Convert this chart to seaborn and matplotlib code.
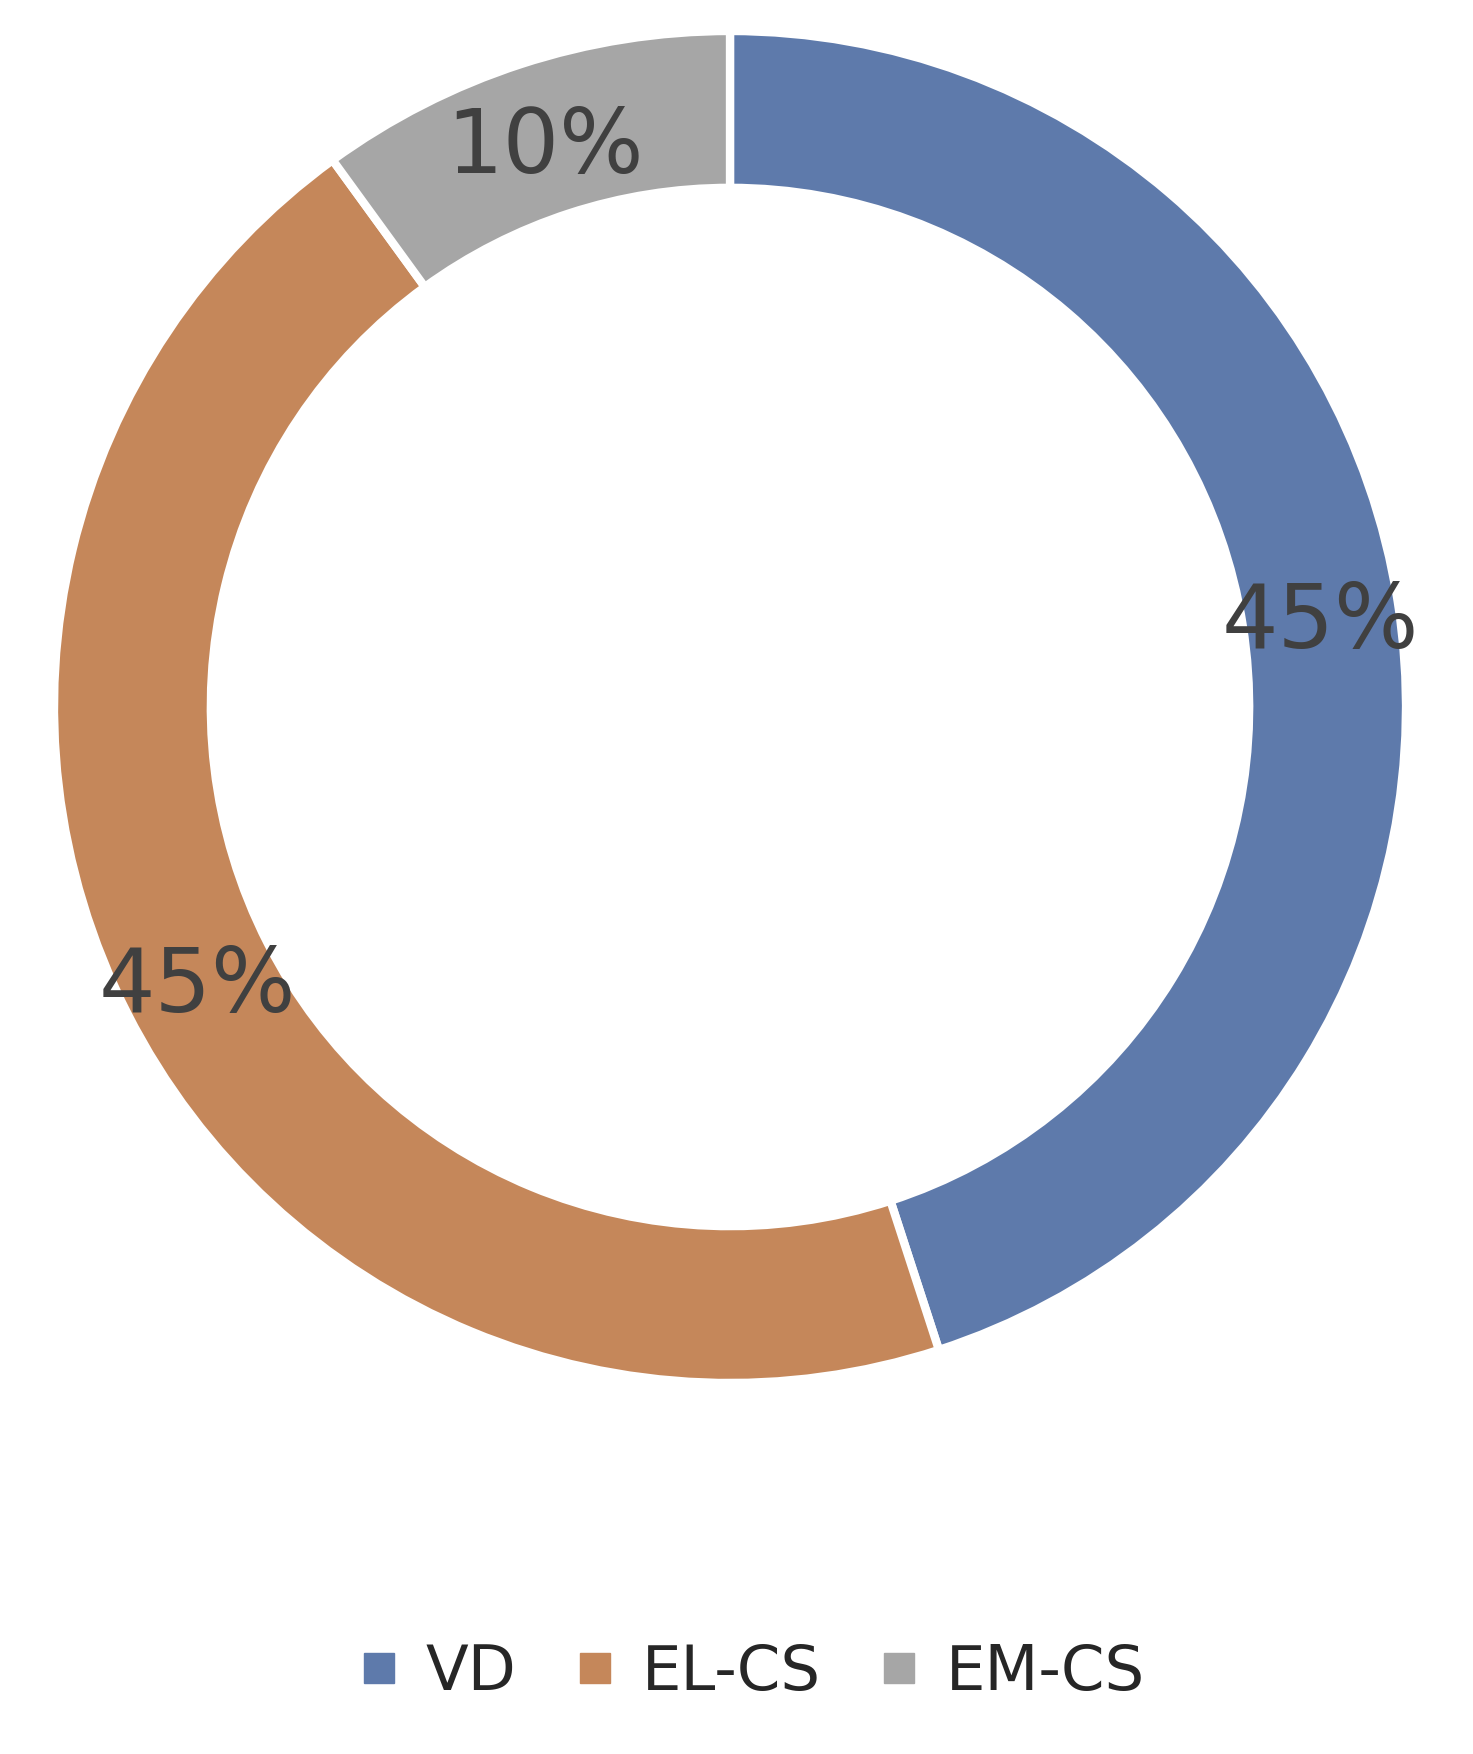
import matplotlib
matplotlib.use("Agg")
import matplotlib.pyplot as plt
import seaborn as sns
import numpy as np
from matplotlib.lines import Line2D

categories = ["VD", "EL-CS", "EM-CS"]
shares = [45, 45, 10]
colors = ["#5E7AAB", "#C5875A", "#A6A6A6"]

sns.set_theme(style="white")
plt.rcParams["font.family"] = ["DejaVu Sans"]

fig = plt.figure(figsize=(14.73, 17.54), dpi=100)
ax = fig.add_axes([54 / 1473, 371 / 1754, 1352 / 1473, 1352 / 1754])

ring = 0.232
wedges, _ = ax.pie(
    shares, colors=colors, startangle=90, counterclock=False, radius=1,
    wedgeprops=dict(width=ring, edgecolor="white", linewidth=6),
)

# labels sit on the middle of the ring
r_mid = 1 - ring / 2
for w, v in zip(wedges, shares):
    ang = np.deg2rad((w.theta1 + w.theta2) / 2)
    ax.text(r_mid * np.cos(ang), r_mid * np.sin(ang), f"{v}%",
            fontsize=64, color="#404040", ha="center", va="center_baseline")

ax.set_xlim(-1, 1)
ax.set_ylim(-1, 1)
ax.set_aspect("equal")
ax.axis("off")

handles = [Line2D([0], [0], marker="s", linestyle="none", markersize=21,
                  markerfacecolor=c, markeredgecolor=c) for c in colors]
fig.legend(handles, categories, loc="center", bbox_to_anchor=(0.51, 0.046),
           ncol=3, frameon=False, fontsize=45, handlelength=0.7,
           handletextpad=0.4, columnspacing=0.9, labelcolor="#262626")

fig.savefig("out.png", dpi=100, facecolor="white")
plt.close(fig)
